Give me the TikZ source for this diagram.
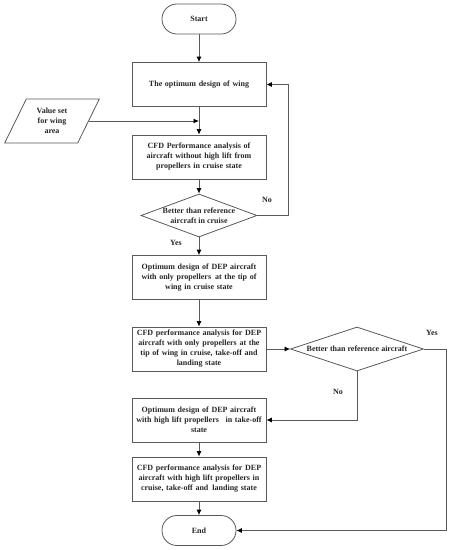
\documentclass[tikz,border=0pt]{standalone}
\usepackage{fontspec}
\setmainfont{Liberation Serif}
\usetikzlibrary{shapes.geometric,arrows.meta}
\begin{document}
\begin{tikzpicture}
  [x=1pt,y=-1pt,every node/.style={font=\fontsize{8}{10}\selectfont\bfseries,align=center,text=black!85}]
  \tikzstyle{box} = [draw=black!65,line width=0.8pt,minimum width=134pt,minimum height=44pt,inner sep=2pt,text width=128pt]
  \tikzstyle{term} = [draw=black!65,line width=0.8pt,minimum width=74pt,minimum height=30pt,rounded corners=14.9pt]
  \tikzstyle{io} = [draw=black!65,line width=0.8pt,trapezium,trapezium left angle=63.4,trapezium right angle=116.6,trapezium stretches=true,minimum width=95pt,minimum height=44pt,inner sep=0pt]
  \tikzstyle{decision} = [draw=black!65,line width=0.8pt,diamond,aspect=2.7,inner sep=-8pt]
  \tikzstyle{flow} = [draw=black!65,line width=0.8pt,-{Latex[length=5.5pt,width=5pt,black]}]
  \tikzstyle{tag} = [inner sep=0pt]
  \useasboundingbox (0,0) rectangle (452,550);
  \node[term] (start) at (199,19) {Start};
  \node[box] (wing) at (199,84.5) {The optimum design of wing};
  \node[io] (value) at (52,121) {Value set\\for wing\\area};
  \node[box] (cfd1) at (199,157) {CFD Performance analysis of\\aircraft without high lift from\\propellers in cruise state};
  \node[decision,minimum width=116pt,minimum height=43pt] (dec1) at (199,215.5) {Better than reference\\aircraft in cruise};
  \node[box] (opt1) at (199,277.5) {Optimum design of DEP aircraft\\with only propellers\enspace at the tip of\\wing in cruise state};
  \node[box] (cfd2) at (199,349) {CFD performance analysis for DEP\\aircraft with only propellers at the\\tip of wing in cruise, take-off and\\landing state};
  \node[decision,minimum width=133pt,minimum height=44pt] (dec2) at (357,349) {Better than reference aircraft};
  \node[box] (opt2) at (199,420) {Optimum design of DEP aircraft\\with high lift propellers\enspace\ in take-off\\state};
  \node[box] (cfd3) at (199,479) {CFD performance analysis for DEP\\aircraft with high lift propellers in\\cruise, take-off and\enspace landing state};
  \node[term] (end) at (199,530.5) {End};
  \node[tag] (no1) at (267,200) {No};
  \node[tag] (yes1) at (176,243) {Yes};
  \node[tag] (yes2) at (432,333) {Yes};
  \node[tag] (no2) at (338,392) {No};
  \coordinate (loop1) at (288,0);
  \coordinate (loop2) at (446,0);
\foreach \source /\dest in {start/wing,wing/cfd1,cfd1/dec1,dec1/opt1,opt1/cfd2,cfd2/dec2,opt2/cfd3,cfd3/end}
   \draw[flow] (\source) -- (\dest);
  \draw[flow] (value.east) -- (value.east -| wing.south);
  \draw[flow] (dec1.east) -| (loop1 |- dec1.east) |- (wing.east);
  \draw[flow] (dec2.east) -| (loop2 |- dec2.east) |- (end.east);
  \draw[flow] (dec2.south) |- (opt2.east);

\end{tikzpicture}
\end{document}
